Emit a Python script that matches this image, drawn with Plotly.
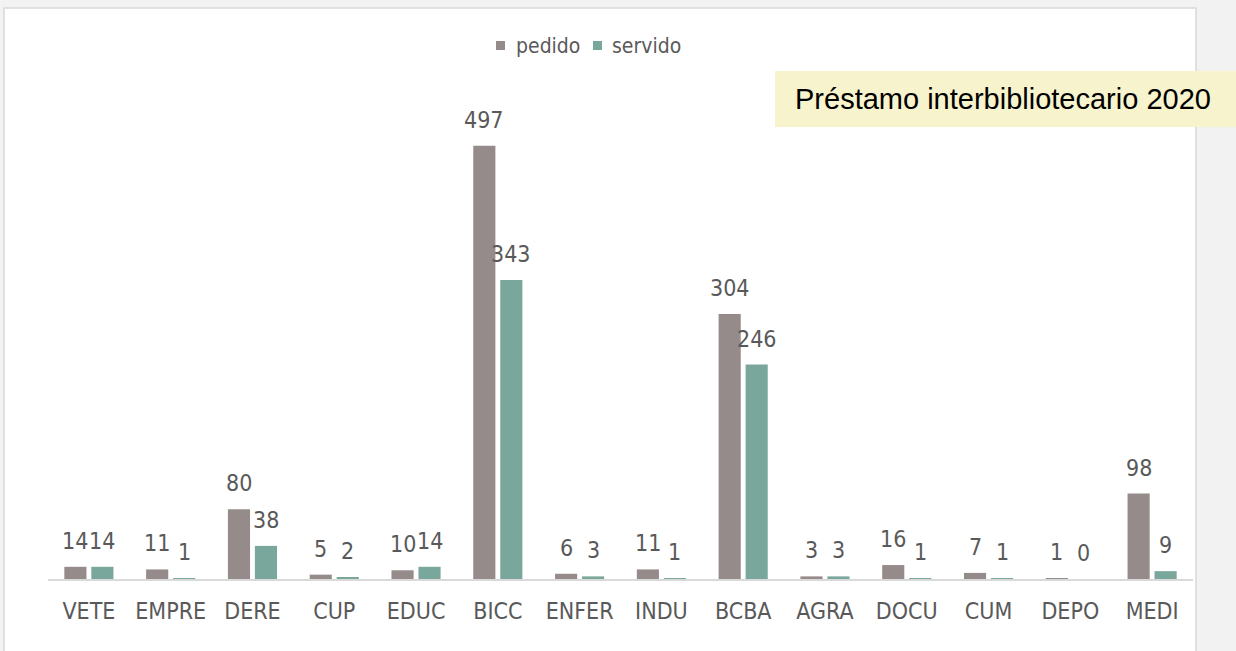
import plotly.graph_objects as go

categories = ["VETE", "EMPRE", "DERE", "CUP", "EDUC", "BICC", "ENFER", "INDU",
              "BCBA", "AGRA", "DOCU", "CUM", "DEPO", "MEDI"]
pedido = [14, 11, 80, 5, 10, 497, 6, 11, 304, 3, 16, 7, 1, 98]
servido = [14, 1, 38, 2, 14, 343, 3, 1, 246, 3, 1, 1, 0, 9]
series_names = ["pedido", "servido"]
series_colors = ["#958B8A", "#7AA79B"]
title_text = "Préstamo interbibliotecario 2020"

W, H = 1236, 651
L, R, T, B = 48, 43, 56, 72
pw, ph = W - L - R, H - T - B

def px(x):
    return (x - L) / pw

def py(y):
    return (H - B - y) / ph

FONT = "DejaVu Sans Condensed, Liberation Sans Narrow, Liberation Sans, sans-serif"
GRAY = "#595959"
label_font = dict(family=FONT, size=23, color=GRAY)

fig = go.Figure()
for name, vals, col in zip(series_names, [pedido, servido], series_colors):
    fig.add_trace(go.Bar(x=categories, y=vals, name=name, marker_color=col,
                         marker_line_width=0, showlegend=False))

# data labels placed from the data through the axes
annotations = []
for vals, shift in zip([pedido, servido], [-13.5, 13.5]):
    for c, v in zip(categories, vals):
        annotations.append(dict(x=c, y=v, xref="x", yref="y", text=str(v),
                                showarrow=False, xanchor="center", yanchor="bottom",
                                xshift=shift, yshift=11, font=label_font))

shapes = [
    dict(type="rect", xref="paper", yref="paper", layer="below",
         x0=px(4), x1=px(1196), y0=py(670), y1=py(8),
         fillcolor="white", line=dict(color="#D9D9D9", width=1.5)),
    dict(type="rect", xref="paper", yref="paper", layer="above",
         x0=px(775), x1=px(1240), y0=py(127), y1=py(71),
         fillcolor="#F7F3CD", line=dict(width=0)),
]
# compact legend like the original
legend_marker_x = [496, 593]
legend_text_x = [514, 610]
for name, col, mx, tx in zip(series_names, series_colors, legend_marker_x, legend_text_x):
    shapes.append(dict(type="rect", xref="paper", yref="paper",
                       x0=px(mx), x1=px(mx + 9), y0=py(50), y1=py(41),
                       fillcolor=col, line=dict(width=0)))
    annotations.append(dict(text=name, xref="paper", yref="paper", x=px(tx), y=py(46),
                            xanchor="left", yanchor="middle", showarrow=False,
                            font=dict(family=FONT, size=21, color=GRAY)))

annotations.append(dict(text=title_text, xref="paper", yref="paper",
                        x=px(1003), y=py(99), xanchor="center", yanchor="middle",
                        showarrow=False,
                        font=dict(family="Liberation Sans, Arial, sans-serif", size=29,
                                  color="#000000")))

fig.update_layout(
    width=W, height=H,
    margin=dict(l=L, r=R, t=T, b=B, pad=0),
    paper_bgcolor="#F2F2F2",
    plot_bgcolor="rgba(0,0,0,0)",
    barmode="group", bargap=0.34, bargroupgap=0.18,
    showlegend=False,
    xaxis=dict(showline=True, linecolor="#D9D9D9", linewidth=2, showgrid=False,
               ticks="outside", ticklen=10, tickcolor="rgba(0,0,0,0)",
               tickfont=dict(family=FONT, size=23, color=GRAY), fixedrange=True),
    yaxis=dict(range=[0, 600], visible=False, showgrid=False, zeroline=False,
               fixedrange=True),
    shapes=shapes,
    annotations=annotations,
)

fig.write_html("out.html", config={"displayModeBar": False},
               post_script="document.body.style.margin='0';document.body.style.overflow='hidden';")
